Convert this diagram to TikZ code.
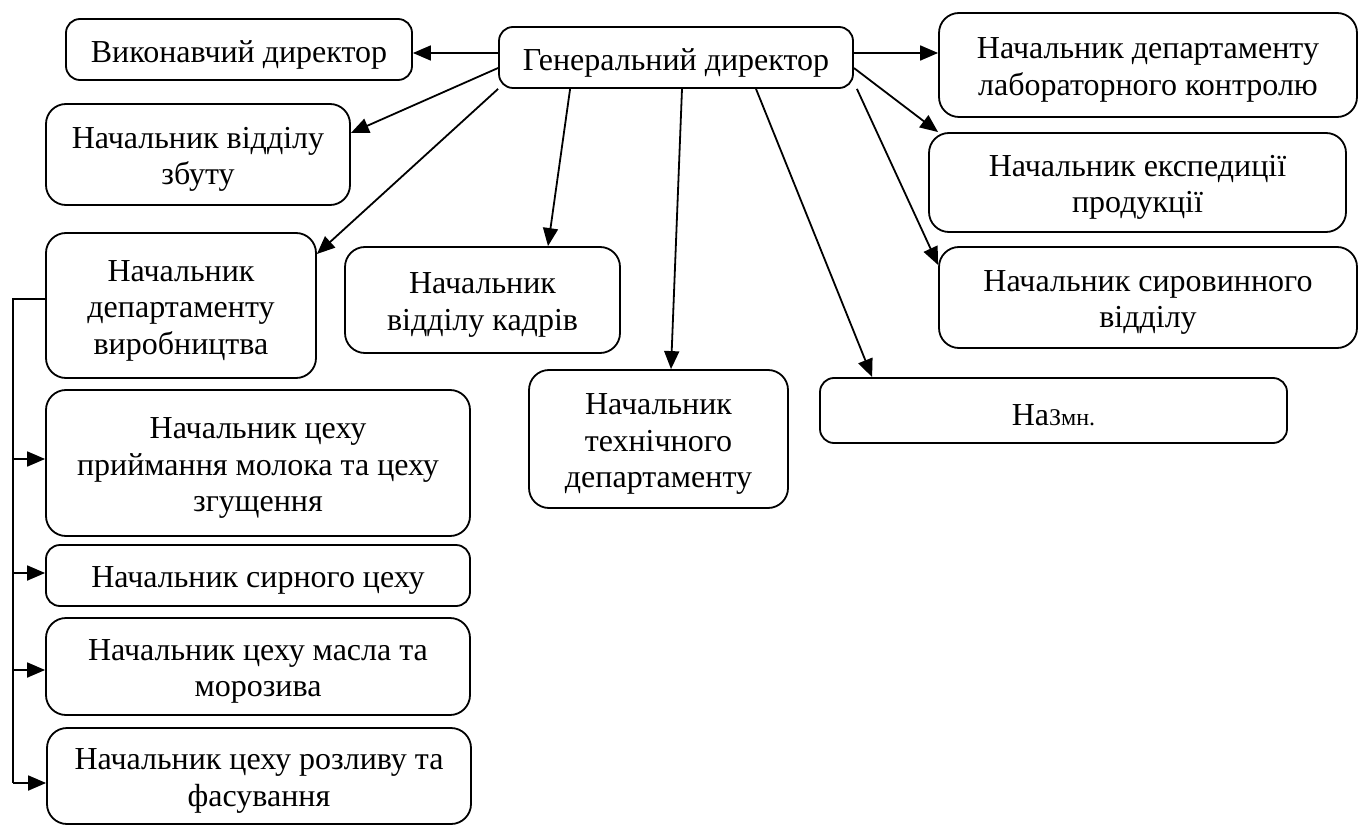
\documentclass[tikz,border=0pt]{standalone}
\usepackage{fontspec}
\setmainfont{Liberation Serif}
\usetikzlibrary{arrows.meta,calc}
\tikzset{
  box/.style={draw, line width=1.8pt, rounded corners=14pt, inner sep=0pt},
  bigbox/.style={box, rounded corners=20pt},
  txt/.style={align=center, inner sep=0pt, font=\fontsize{32pt}{36.5pt}\selectfont},
  arr/.style={line width=1.8pt, -{Triangle[length=18pt,width=15pt]}},
  ln/.style={line width=1.5pt}
}
\newcommand{\bx}[6]{\node[#1, minimum width=#4pt, minimum height=#5pt] (#2) at (#3) {};
  \node[txt] (#2-t) at ([yshift=-5pt]#2.center) {#6};}
\begin{document}
\begin{tikzpicture}[x=1pt,y=-1pt]
\useasboundingbox (0,0) rectangle (1359,826);
\bx{box}{vyk}{239,49.5}{346}{61}{Виконавчий директор}
\bx{box}{gen}{676,57.5}{354}{61}{Генеральний директор}
\bx{bigbox}{lab}{1148,65}{418}{104}{Начальник департаменту\\лабораторного контролю}
\bx{bigbox}{exp}{1137.5,182.5}{417}{99}{Начальник експедиції\\продукції}
\bx{bigbox}{syr}{1148,297.5}{418}{101}{Начальник сировинного\\відділу}
\bx{box}{naz}{1053.5,410.5}{467}{65}{На{\fontsize{24pt}{28pt}\selectfont Змн.}}
\bx{bigbox}{tech}{658.5,439}{259}{138}{Начальник\\технічного\\департаменту}
\bx{bigbox}{kadr}{482.5,300}{275}{106}{Начальник\\відділу кадрів}
\bx{bigbox}{zbut}{198,154.5}{304}{101}{Начальник відділу\\збуту}
\bx{bigbox}{vyr}{181,305.5}{270}{145}{Начальник\\департаменту\\виробництва}
\bx{bigbox}{pryim}{258,463}{424}{146}{Начальник цеху\\приймання молока та цеху\\згущення}
\bx{box}{syrn}{258,575.5}{424}{61}{Начальник сирного цеху}
\bx{bigbox}{masl}{258,666.5}{424}{97}{Начальник цеху масла та\\морозива}
\bx{bigbox}{rozl}{259,776}{424}{96}{Начальник цеху розливу та\\фасування}

% arrows from general director
\draw[arr] ([yshift=4.5pt]gen.west) -- ([yshift=4.5pt]gen.west -| vyk.east);
\draw[arr] ([yshift=4.5pt]gen.east) -- ([yshift=4.5pt]gen.east -| lab.west);
\draw[arr] ([yshift=-10.5pt]gen.west) -- ([yshift=21.5pt]zbut.east);
\draw[arr] (gen.south west) -- ([yshift=51.5pt]vyr.east);
\draw[arr] ([xshift=72pt]gen.south west) -- ([xshift=65.5pt]kadr.north);
\draw[arr] ([xshift=6pt]gen.south) -- ([xshift=12.5pt]tech.north);
\draw[arr] ([xshift=80pt]gen.south) -- ([xshift=53pt]naz.north west);
\draw[arr] ([yshift=-10.5pt]gen.east) -- ([xshift=10pt]exp.north west);
\draw[arr] ([xshift=3pt]gen.south east) -- ([yshift=32.5pt]syr.west);

% production branch
\coordinate (b0) at (13,299);
\coordinate (b1) at (13,459);
\coordinate (b2) at (13,573);
\coordinate (b3) at (13,670);
\coordinate (b4) at (13,783);
\draw[ln] ([yshift=6.5pt]vyr.west) -- (b0) -- (b4);
\draw[arr] (b1) -- (b1 -| pryim.west);
\draw[arr] (b2) -- (b2 -| syrn.west);
\draw[arr] (b3) -- (b3 -| masl.west);
\draw[arr] (b4) -- (b4 -| rozl.west);
\end{tikzpicture}
\end{document}
